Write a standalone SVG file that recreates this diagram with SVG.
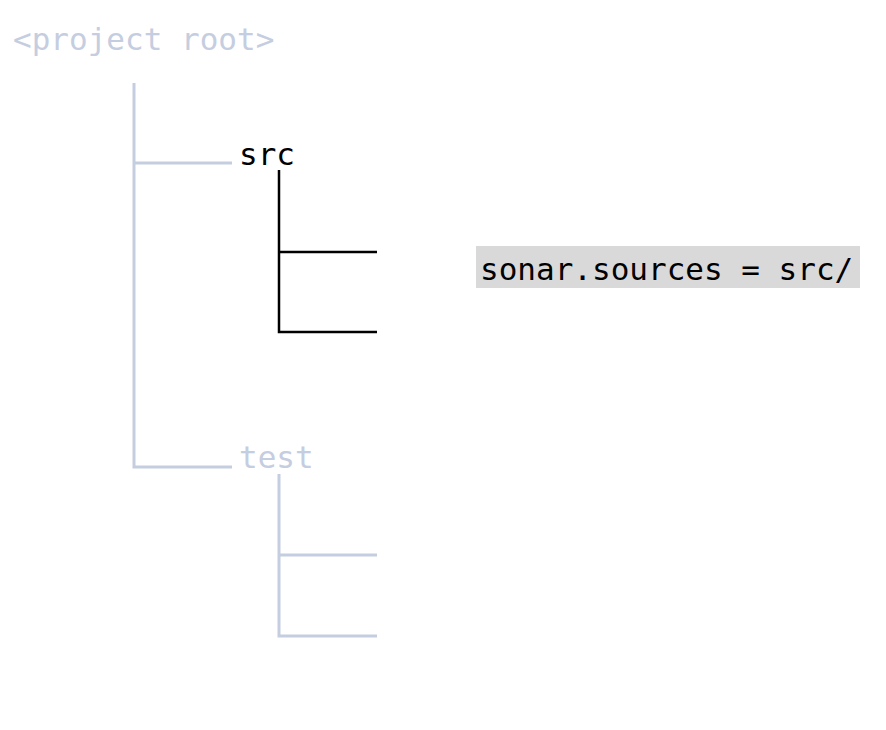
<svg xmlns="http://www.w3.org/2000/svg" width="886" height="730" viewBox="0 0 886 730">
<style>
text{font-family:"DejaVu Sans Mono","Liberation Mono",monospace;font-size:31px}
.g{fill:#c5cde0}
.k{fill:#000}
.lg{stroke:#c5cde0;stroke-width:3;fill:none}
.lk{stroke:#000;stroke-width:2.5;fill:none}
</style>
<rect width="886" height="730" fill="#fff"/>
<g id="connectors">
<path class="lg" d="M134 83V467H232M134 163H232"/>
<path class="lk" d="M279 170V332H377M279 252H377"/>
<path class="lg" d="M279 474V636H377M279 555H377"/>
</g>
<g id="root"><text class="g" x="13" y="50">&lt;project root&gt;</text></g>
<g id="src"><text class="k" x="239" y="165">src</text></g>
<g id="test"><text class="g" x="239" y="468">test</text></g>
<g id="sources"><rect x="476" y="246" width="384" height="42" fill="#d9d9d9"/><text class="k" x="480" y="280">sonar.sources = src/</text></g>
</svg>
